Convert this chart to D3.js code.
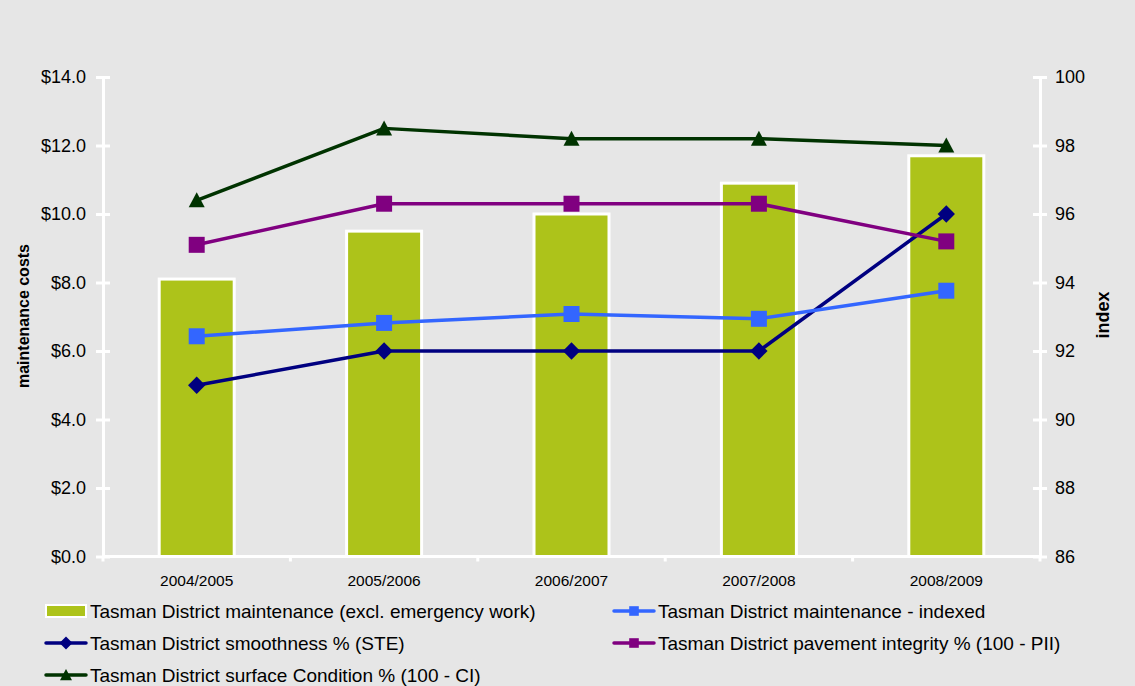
<!DOCTYPE html>
<html>
<head>
<meta charset="utf-8">
<script src="https://cdn.jsdelivr.net/npm/d3@7"></script>
<style>
  html, body { margin: 0; padding: 0; background: #e6e6e6; }
  svg text { font-family: "Liberation Sans", Arial, sans-serif; fill: #000; }
</style>
</head>
<body>
<svg id="chart" width="1135" height="686"></svg>
<script>
// Financial years
const years = ["2004/2005", "2005/2006", "2006/2007", "2007/2008", "2008/2009"];

// Maintenance costs, $ millions (left axis)
const maintenance = [8.1, 9.5, 10.0, 10.9, 11.7];
const maintenanceIndexed = [6.43, 6.82, 7.08, 6.94, 7.76];

// Condition indices (right axis)
const smoothness = [91.0, 92.0, 92.0, 92.0, 96.0];
const pavementIntegrity = [95.1, 96.3, 96.3, 96.3, 95.2];
const surfaceCondition = [96.4, 98.5, 98.2, 98.2, 98.0];

// Tick values
const leftTicks = [0, 2, 4, 6, 8, 10, 12, 14];
const rightTicks = [86, 88, 90, 92, 94, 96, 98, 100];

const colors = {
  bar: "#adc31a",
  indexed: "#3366ff",
  smooth: "#000080",
  pavement: "#800080",
  surface: "#003300"
};

const svg = d3.select("#chart");
const plot = { left: 103, right: 1040, top: 77, bottom: 556.5 };

const x = d3.scaleBand().domain(years).range([plot.left, plot.right]);
const yL = d3.scaleLinear().domain([0, 14]).range([plot.bottom, plot.top]);
const yR = d3.scaleLinear().domain([86, 100]).range([plot.bottom, plot.top]);
const cx = d => x(d) + x.bandwidth() / 2;

// Bars
const barW = 75;
svg.append("g").selectAll("rect").data(maintenance).join("rect")
  .attr("x", (d, i) => cx(years[i]) - barW / 2)
  .attr("y", d => yL(d))
  .attr("width", barW)
  .attr("height", d => plot.bottom - yL(d))
  .attr("fill", colors.bar)
  .attr("stroke", "#fff")
  .attr("stroke-width", 3);

// Axes
const axisStyle = g => {
  g.select(".domain").attr("stroke", "#fff").attr("stroke-width", 3);
  g.selectAll(".tick line").attr("stroke", "#fff").attr("stroke-width", 3);
  g.selectAll(".tick text").style("font-family", '"Liberation Sans", Arial, sans-serif').attr("fill", "#000");
};

const leftAxis = svg.append("g").attr("transform", `translate(${plot.left},0)`)
  .call(d3.axisLeft(yL).tickValues(leftTicks).tickFormat(d => "$" + d3.format(".1f")(d))
    .tickSizeInner(7).tickSizeOuter(0).tickPadding(10));
leftAxis.call(axisStyle);
leftAxis.selectAll(".tick line").attr("x1", -7).attr("x2", 7);
leftAxis.selectAll(".tick text").style("font-size", "18px");

const rightAxis = svg.append("g").attr("transform", `translate(${plot.right},0)`)
  .call(d3.axisRight(yR).tickValues(rightTicks).tickSizeInner(7).tickSizeOuter(0).tickPadding(8));
rightAxis.call(axisStyle);
rightAxis.selectAll(".tick line").attr("x1", -7).attr("x2", 7);
rightAxis.selectAll(".tick text").style("font-size", "18px");

// Category axis: ticks at band boundaries, labels centered
const xAxisG = svg.append("g");
xAxisG.append("line")
  .attr("x1", plot.left).attr("x2", plot.right)
  .attr("y1", plot.bottom).attr("y2", plot.bottom)
  .attr("stroke", "#fff").attr("stroke-width", 3);
const boundaries = years.map(d => x(d)).concat([plot.right]);
xAxisG.selectAll("line.tk").data(boundaries).join("line").attr("class", "tk")
  .attr("x1", d => d).attr("x2", d => d)
  .attr("y1", plot.bottom).attr("y2", plot.bottom + 5)
  .attr("stroke", "#fff").attr("stroke-width", 3);
xAxisG.selectAll("text").data(years).join("text")
  .attr("x", d => cx(d)).attr("y", 585.5)
  .attr("text-anchor", "middle").style("font-size", "15.5px")
  .text(d => d);

// Axis titles
svg.append("text")
  .attr("transform", `translate(29,316) rotate(-90)`)
  .attr("text-anchor", "middle").style("font-size", "16px").style("font-weight", "bold")
  .text("maintenance costs");
svg.append("text")
  .attr("transform", `translate(1109,315) rotate(-90)`)
  .attr("text-anchor", "middle").style("font-size", "18px").style("font-weight", "bold")
  .text("index");

// Marker symbols
const markerPath = {
  square: d3.symbol().type(d3.symbolSquare).size(256)(),
  diamond: d3.symbol().type(d3.symbolSquare).size(150)(),
  triangle: "M0,-8L8,7L-8,7Z"
};

function drawSeries(values, scale, color, marker) {
  const g = svg.append("g");
  const line = d3.line().x((d, i) => cx(years[i])).y(d => scale(d));
  g.append("path").datum(values)
    .attr("d", line).attr("fill", "none")
    .attr("stroke", color).attr("stroke-width", 3.5)
    .attr("stroke-linejoin", "round");
  g.selectAll("path.m").data(values).join("path").attr("class", "m")
    .attr("d", markerPath[marker])
    .attr("transform", (d, i) => `translate(${cx(years[i])},${scale(d)})` + (marker === "diamond" ? " rotate(45)" : ""))
    .attr("fill", color);
}

drawSeries(smoothness, yR, colors.smooth, "diamond");
drawSeries(maintenanceIndexed, yL, colors.indexed, "square");
drawSeries(pavementIntegrity, yR, colors.pavement, "square");
drawSeries(surfaceCondition, yR, colors.surface, "triangle");

// Legend
const legendItems = [
  { label: "Tasman District maintenance (excl. emergency work)", type: "bar", color: colors.bar, x: 46, y: 611 },
  { label: "Tasman District maintenance - indexed", type: "square", color: colors.indexed, x: 614, y: 611 },
  { label: "Tasman District smoothness % (STE)", type: "diamond", color: colors.smooth, x: 46, y: 643 },
  { label: "Tasman District pavement integrity % (100 - PII)", type: "square", color: colors.pavement, x: 614, y: 643 },
  { label: "Tasman District surface Condition % (100 - CI)", type: "triangle", color: colors.surface, x: 46, y: 675 }
];

const lg = svg.append("g");
legendItems.forEach(it => {
  const g = lg.append("g").attr("transform", `translate(${it.x},${it.y})`);
  if (it.type === "bar") {
    g.append("rect").attr("x", 0).attr("y", -6).attr("width", 40).attr("height", 12)
      .attr("fill", it.color).attr("stroke", "#fff").attr("stroke-width", 2);
  } else {
    g.append("line").attr("x1", 0).attr("x2", 40).attr("y1", 0).attr("y2", 0)
      .attr("stroke", it.color).attr("stroke-width", 3.5).attr("stroke-linecap", "round");
    const scaleM = it.type === "square" ? 0.6 : 0.75;
    g.append("path").attr("d", markerPath[it.type])
      .attr("transform", `translate(20,0) scale(${scaleM})` + (it.type === "diamond" ? " rotate(45)" : ""))
      .attr("fill", it.color);
  }
  g.append("text").attr("x", 44).attr("y", 0).attr("dy", "0.35em")
    .style("font-size", "19px").text(it.label);
});
</script>
</body>
</html>
